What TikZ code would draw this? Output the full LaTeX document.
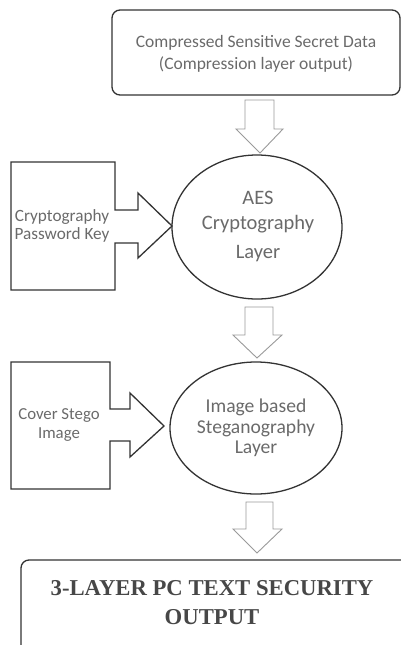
\documentclass[tikz,border=0pt]{standalone}
\usepackage{fontspec}
\setmainfont{Carlito}
\newfontfamily\serifbold{Liberation Serif}
\usetikzlibrary{shapes.geometric}
\definecolor{txtgray}{HTML}{6A6A6A}
\definecolor{linedark}{HTML}{333333}
\definecolor{arrowgray}{HTML}{9A9A9A}
\tikzset{
  outline/.style={draw=linedark, line width=1.3pt, line join=miter},
  blockarrow/.style={draw=arrowgray, line width=0.9pt, fill=white, line join=miter},
  graytext/.style={text=txtgray, align=center, inner sep=0pt},
}
\begin{document}
\begin{tikzpicture}[x=1pt,y=-1pt]
\useasboundingbox (0,0) rectangle (401,645);
% top box
\draw[outline, rounded corners=8pt] (112,10) rectangle (400,95);
\node[graytext, font=\fontsize{17.5}{22}\selectfont] (top) at (256,54)
  {Compressed Sensitive Secret Data\\(Compression layer output)};
% down arrow 1
\draw[blockarrow] (245,100) -- (274,100) -- (274,129) -- (283,129) -- (260,153) -- (236,129) -- (245,129) -- cycle;
% ellipse 1
\draw[outline] (257,227) ellipse [x radius=85, y radius=72];
\node[graytext, font=\fontsize{20.5}{25}\selectfont] (aes) at (258,226)
  {AES\\Cryptography\\[4pt]Layer};
% left box 1 with arrow
\draw[outline] (11,162) -- (115,162) -- (115,210) -- (138,210) -- (138,193) -- (172,226) -- (138,258) -- (138,243) -- (115,243) -- (115,290) -- (11,290) -- cycle;
\node[graytext, font=\fontsize{17.2}{18.5}\selectfont] (key) at (62,226)
  {Cryptography\\Password Key};
% down arrow 2
\draw[blockarrow] (245,307) -- (273,307) -- (273,335) -- (282,335) -- (257,358) -- (233,335) -- (245,335) -- cycle;
% ellipse 2
\draw[outline] (256,428) ellipse [x radius=86, y radius=66];
\node[graytext, font=\fontsize{19.6}{20.5}\selectfont] (steg) at (256,428)
  {Image based\\Steganography\\Layer};
% left box 2 with arrow
\draw[outline] (11,362) -- (110,362) -- (110,409) -- (130,409) -- (130,393) -- (164,426) -- (130,457) -- (130,441) -- (110,441) -- (110,489) -- (11,489) -- cycle;
\node[graytext, font=\fontsize{16.8}{19}\selectfont] (cover) at (59,425)
  {Cover Stego\\Image};
% down arrow 3
\draw[blockarrow] (246,502) -- (273,502) -- (273,529) -- (282,529) -- (257,553) -- (233,529) -- (246,529) -- cycle;
% bottom box
\draw[outline, rounded corners=8pt] (21,660) -- (21,560) -- (420,560) -- (420,660);
\node[graytext, text=linedark!90, font=\serifbold\bfseries\fontsize{22.7}{29}\selectfont] (out) at (212,603)
  {3-LAYER PC TEXT SECURITY\\OUTPUT};
\end{tikzpicture}
\end{document}
